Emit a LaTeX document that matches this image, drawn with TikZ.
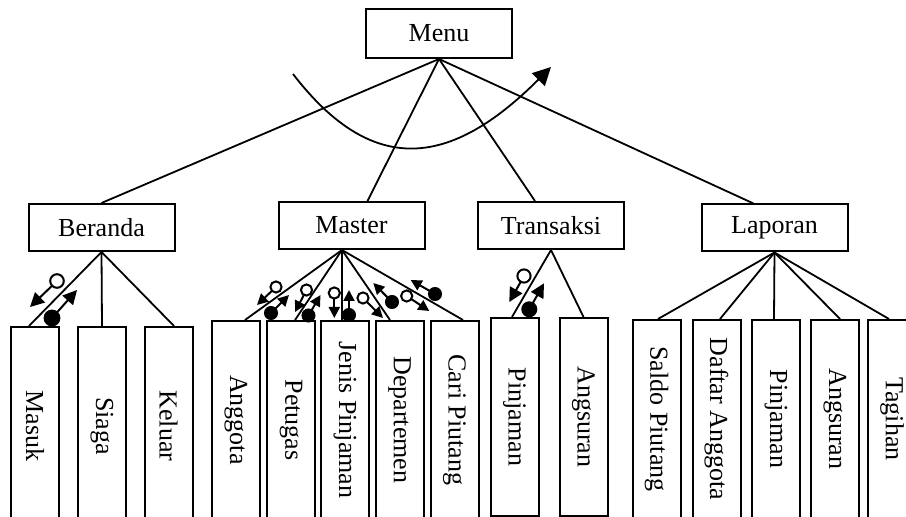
\documentclass[tikz,border=0pt]{standalone}
\usepackage{fontspec}
\setmainfont{Liberation Serif}
\usepackage{tikz}
\usetikzlibrary{arrows.meta}

\tikzset{
  menubox/.style={draw, line width=1pt, minimum width=73pt, minimum height=23.5pt, inner sep=0pt},
  leafbox/.style={draw, line width=1pt, minimum width=24pt, minimum height=99pt, inner sep=0pt},
  link/.style={line width=0.9pt},
  couple/.style={line width=1pt, -{Triangle[length=7pt,width=7pt]}},
  smallcouple/.style={line width=1pt, -{Triangle[length=5.5pt,width=5.5pt]}}
}

\begin{document}
\begin{tikzpicture}[x=0.5pt, y=-0.5pt, font=\fontsize{13}{15}\selectfont]
            \useasboundingbox (0,0) rectangle (906,517);
            \clip (0,0) rectangle (906,517);

            % top
            \node[menubox, minimum height=24.5pt] (menu) at (439, 33.5) {Menu};

            \node[menubox] (beranda) at (101.5, 227.5) {Beranda};
            \node[menubox] (master) at (351.5, 225.5) {Master};
            \node[menubox] (transaksi) at (551, 225.5) {Transaksi};
            \node[menubox] (laporan) at (774.5, 228) {Laporan};

            \draw[link] (menu.south) -- (beranda.north);
            \draw[link] (menu.south) -- ([xshift=8pt]master.north);
            \draw[link] (menu.south) -- ([xshift=-8pt]transaksi.north);
            \draw[link] (menu.south) -- ([xshift=-10.5pt]laporan.north);

            \draw[link, -{Triangle[length=9pt,width=9pt]}] (293,74) .. controls (373,178) and (451,167) .. (551,67);

            % beranda
            \node[leafbox] (masuk) at (35, 426) {\rotatebox{-90}{Masuk}};
            \node[leafbox] (siaga) at (102, 426) {\rotatebox{-90}{Siaga}};
            \node[leafbox] (keluar) at (168.5, 426) {\rotatebox{-90}{Keluar}};

            \draw[link] (beranda.south) -- ([xshift=-3pt]masuk.north);
            \draw[link] (beranda.south) -- (siaga.north);
            \draw[link] (beranda.south) -- ([xshift=2.75pt]keluar.north);

            \draw[couple] (57,281) -- (30,307);
            \draw[line width=1pt, fill=white] (57,281) circle (3.4pt);
            \draw[couple] (52,318) -- (77,290);
            \draw[line width=1pt, fill=black] (52,318) circle (3.7pt);

            % master
            \node[leafbox] (anggota) at (236, 420) {\rotatebox{-90}{Anggota}};
            \node[leafbox] (petugas) at (291, 420) {\rotatebox{-90}{Petugas}};
            \node[leafbox] (jenis) at (345, 420) {\rotatebox{-90}{Jenis Pinjaman}};
            \node[leafbox] (departemen) at (399.5, 420) {\rotatebox{-90}{Departemen}};
            \node[leafbox] (cari) at (454.5, 420) {\rotatebox{-90}{Cari Piutang}};

            \draw[link] ([xshift=-4.75pt]master.south) -- ([xshift=4.5pt]anggota.north);
            \draw[link] ([xshift=-4.75pt]master.south) -- ([xshift=2pt]petugas.north);
            \draw[link] ([xshift=-4.75pt]master.south) -- ([xshift=-1.5pt]jenis.north);
            \draw[link] ([xshift=-4.75pt]master.south) -- ([xshift=-4.75pt]departemen.north);
            \draw[link] ([xshift=-4.75pt]master.south) -- ([xshift=4.25pt]cari.north);

            \draw[smallcouple] (276,287) -- (257,305);
            \draw[line width=1pt, fill=white] (276,287) circle (2.8pt);
            \draw[smallcouple] (271,313) -- (289,295);
            \draw[line width=1pt, fill=black] (271,313) circle (3pt);

            \draw[smallcouple] (306.5,290) -- (295,312);
            \draw[line width=1pt, fill=white] (306.5,290) circle (2.8pt);
            \draw[smallcouple] (308.5,315.5) -- (320.5,295);
            \draw[line width=1pt, fill=black] (308.5,315.5) circle (3pt);

            \draw[smallcouple] (334.3,293) -- (334.3,318);
            \draw[line width=1pt, fill=white] (334.3,293) circle (2.8pt);
            \draw[smallcouple] (349,315) -- (349,290);
            \draw[line width=1pt, fill=black] (349,315) circle (3pt);

            \draw[smallcouple] (363,298) -- (383,318);
            \draw[line width=1pt, fill=white] (363,298) circle (2.8pt);
            \draw[smallcouple] (392,302) -- (373.3,283);
            \draw[line width=1pt, fill=black] (392,302) circle (3pt);

            \draw[smallcouple] (406.7,296) -- (429.3,311);
            \draw[line width=1pt, fill=white] (406.7,296) circle (2.8pt);
            \draw[smallcouple] (435,294) -- (410.7,280);
            \draw[line width=1pt, fill=black] (435,294) circle (3pt);

            % transaksi
            \node[leafbox] (pinjaman) at (514.5, 417) {\rotatebox{-90}{Pinjaman}};
            \node[leafbox] (angsuran) at (583.5, 417) {\rotatebox{-90}{Angsuran}};

            \draw[link] (transaksi.south) -- ([xshift=-1.25pt]pinjaman.north);
            \draw[link] (transaksi.south) -- (angsuran.north);

            \draw[couple] (524,276) -- (509.3,302);
            \draw[line width=1pt, fill=white] (524,276) circle (3.3pt);
            \draw[couple] (529.3,309.3) -- (544,283.3);
            \draw[line width=1pt, fill=black] (529.3,309.3) circle (3.5pt);

            % laporan
            \node[leafbox] (saldo) at (656.5, 419) {\rotatebox{-90}{Saldo Piutang}};
            \node[leafbox] (daftar) at (716.5, 419) {\rotatebox{-90}{Daftar Anggota}};
            \node[leafbox] (lappinjaman) at (776, 419) {\rotatebox{-90}{Pinjaman}};
            \node[leafbox] (lapangsuran) at (835, 419) {\rotatebox{-90}{Angsuran}};
            \node[leafbox] (tagihan) at (892, 419) {\rotatebox{-90}{Tagihan}};

            \draw[link] (laporan.south) -- ([xshift=0.75pt]saldo.north);
            \draw[link] (laporan.south) -- ([xshift=1.75pt]daftar.north);
            \draw[link] (laporan.south) -- ([xshift=-1pt]lappinjaman.north);
            \draw[link] (laporan.south) -- ([xshift=2.5pt]lapangsuran.north);
            \draw[link] (laporan.south) -- ([xshift=-1.5pt]tagihan.north);

\end{tikzpicture}
\end{document}
